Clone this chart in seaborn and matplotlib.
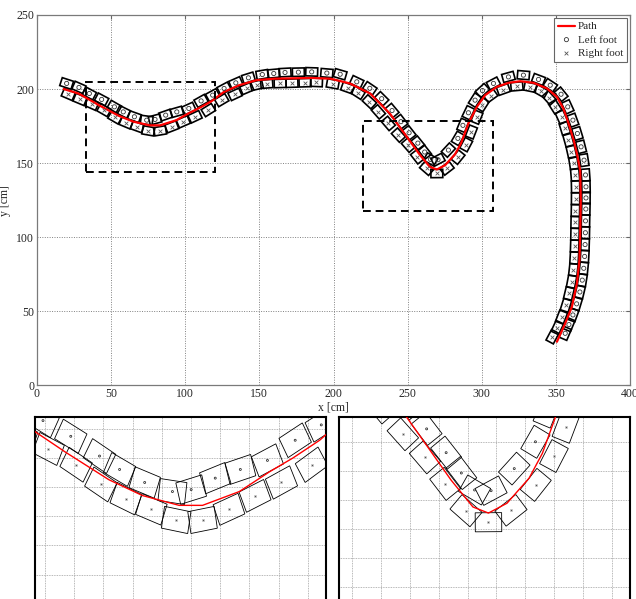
import numpy as np
import pandas as pd
import seaborn as sns
import matplotlib.pyplot as plt
from matplotlib.patches import Rectangle

# walking path (cm)
path_x = [18, 28, 42, 55, 65, 76, 83, 94, 103, 110, 118, 126, 136, 148, 160, 171, 185, 198, 211, 224.7,
          238, 249.5, 258.4, 265, 269.7, 275.3, 282, 286, 291, 296.7, 302.3, 310.2, 318, 326, 335,
          344, 350.7, 355, 358.5, 362, 364.5, 366.4, 366.8, 366.4, 365.9, 364.2, 360.8, 356.3, 350.7]
path_y = [200, 197, 189, 182, 178, 175.5, 175.5, 179, 184, 187.5, 192, 198, 202.5, 206, 207, 207.2, 207.5, 207, 203.8, 197,
          183.5, 167.7, 155.4, 147.5, 145.7, 148.6, 156, 163.3, 176.8, 188, 195.9, 201.5, 204.2, 205.3, 204.2,
          200.4, 194.7, 187, 177, 165.5, 155, 145, 125, 102.6, 84.5, 68.8, 53, 41.8, 29.4]

# footstep centres (cm)
left_x = [20.0, 28.3, 35.3, 43.6, 52.2, 58.2, 65.7, 74.0, 79.6, 86.8, 94.3, 102.4, 110.7, 118.5, 126.2, 134.1,
          142.6, 152.0, 159.7, 167.3, 176.3, 185.3, 195.5, 204.5, 215.7, 224.5, 232.5, 239.5, 245.5, 251.0,
          256.9, 261.5, 265.5, 270.5, 277.5, 283.9, 287.3, 291.0, 295.5, 300.5, 307.9, 318.0, 328.1, 338.3,
          346.2, 353.5, 358.0, 361.5, 364.5, 367.0, 369.0, 370.0, 370.3, 370.3, 370.2, 370.0, 369.9, 369.7,
          369.4, 368.8, 367.8, 366.2, 364.0, 361.5, 358.8, 356.3]
left_y = [203.8, 201.1, 197.0, 193.0, 188.0, 184.6, 181.3, 179.0, 179.5, 182.4, 184.6, 186.9, 192.0, 195.9, 200.4, 204.2,
          207.6, 209.8, 210.5, 211.2, 211.4, 211.6, 210.8, 210.0, 204.9, 200.5, 193.5, 185.5, 178.0, 170.5,
          163.5, 157.5, 152.5, 152.3, 158.8, 166.7, 175.5, 184.0, 192.5, 199.0, 203.8, 208.2, 209.4, 206.5,
          202.6, 196.5, 188.0, 179.0, 170.0, 161.0, 152.0, 142.0, 134.0, 126.5, 119.0, 111.0, 103.0, 95.0,
          87.0, 79.0, 71.0, 63.0, 55.0, 47.5, 41.0, 35.1]
right_x = [21.1, 29.0, 36.9, 45.2, 52.6, 60.1, 67.7, 75.1, 83.0, 90.9, 98.7, 106.6, 115.6, 124.6, 133.6, 141.5,
           148.2, 155.0, 164.0, 172.0, 180.8, 188.5, 199.5, 209.5, 216.5, 224.2, 230.3, 237.0, 243.8, 250.5,
           256.6, 262.9, 269.7, 276.5, 284.0, 289.5, 293.0, 296.7, 300.5, 306.0, 314.6, 323.7, 332.7, 340.0,
           345.5, 349.5, 353.8, 356.0, 358.5, 360.5, 362.0, 363.0, 363.3, 363.3, 363.2, 363.0, 362.9, 362.7,
           362.4, 361.8, 360.6, 358.8, 356.8, 353.8, 351.0, 347.7]
right_y = [196.4, 193.0, 189.8, 185.8, 180.8, 177.2, 174.5, 171.8, 171.8, 174.5, 177.9, 181.3, 185.8, 192.5, 196.4, 200.4,
           202.6, 203.5, 203.8, 204.0, 204.3, 204.5, 203.5, 200.8, 197.5, 191.4, 184.6, 176.8, 168.9, 162.1,
           154.3, 146.4, 143.0, 146.5, 154.0, 162.5, 171.0, 181.0, 189.5, 195.5, 199.7, 201.8, 201.3, 198.5,
           194.0, 188.0, 181.0, 173.5, 165.5, 157.5, 150.0, 142.0, 134.0, 126.0, 118.0, 110.0, 102.0, 94.0,
           86.0, 78.0, 70.0, 62.0, 54.0, 46.0, 39.0, 32.8]

# zoom windows (cm): x0, y0, width, height
zoom_boxes = [(33.0, 143.7, 87.0, 61.2), (220.2, 117.4, 87.5, 61.1)]

FOOT_L, FOOT_W = 8.0, 5.6

sns.set_style('white')
plt.rcParams['font.family'] = ['Liberation Serif', 'DejaVu Serif']

path_df = pd.DataFrame({'x': path_x, 'y': path_y})
left_df = pd.DataFrame({'x': left_x, 'y': left_y})
right_df = pd.DataFrame({'x': right_x, 'y': right_y})


def add_feet(ax, df, lw):
    hx = np.gradient(df.x.values)
    hy = np.gradient(df.y.values)
    ang = np.degrees(np.arctan2(hy, hx))
    for cx, cy, a in zip(df.x, df.y, ang):
        ax.add_patch(Rectangle((cx - FOOT_L / 2, cy - FOOT_W / 2), FOOT_L, FOOT_W, angle=a,
                               rotation_point='center', fill=False, edgecolor='black', lw=lw, zorder=2))


def draw_scene(ax, box_lw, path_lw, ms, legend):
    add_feet(ax, left_df, box_lw)
    add_feet(ax, right_df, box_lw)
    sns.lineplot(data=path_df, x='x', y='y', sort=False, estimator=None, color='red', lw=path_lw,
                 ax=ax, label='Path' if legend else None, zorder=3)
    sns.scatterplot(data=left_df, x='x', y='y', marker='o', s=ms, facecolor='none', edgecolor='#333333',
                    linewidth=0.6, ax=ax, label='Left foot' if legend else None, zorder=4)
    sns.scatterplot(data=right_df, x='x', y='y', marker='x', s=ms * 0.8, color='#555555',
                    linewidth=0.6, ax=ax, label='Right foot' if legend else None, zorder=4)


fig = plt.figure(figsize=(6.36, 5.99), dpi=100)

# main view
ax = fig.add_axes([37 / 636, 213.7 / 599, 593 / 636, 370.3 / 599])
draw_scene(ax, 1.2, 1.6, 9, True)
for x0, y0, w, h in zoom_boxes:
    ax.add_patch(Rectangle((x0, y0), w, h, fill=False, edgecolor='black', lw=1.4,
                           linestyle=(0, (4, 2.5)), zorder=5))
ax.set_xlim(0, 400)
ax.set_ylim(0, 250)
ax.set_xticks(range(0, 401, 50))
ax.set_yticks(range(0, 251, 50))
ax.grid(True, color='#808080', linestyle=(0, (1, 1.5)), lw=0.7)
ax.tick_params(direction='in', length=3, top=True, right=True, labelsize=8.5, color='#666666', pad=2)
for s in ax.spines.values():
    s.set_color('#7a7a7a')
    s.set_linewidth(0.9)
ax.set_xlabel('x [cm]', fontsize=8.5, labelpad=1)
ax.set_ylabel('y [cm]', fontsize=8.5, labelpad=4)
leg = ax.legend(loc='upper right', fontsize=8, frameon=True, fancybox=False, framealpha=1,
                edgecolor='#666666', handlelength=1.6, handletextpad=0.25, borderpad=0.35,
                labelspacing=0.3, borderaxespad=0.25)
leg.get_frame().set_linewidth(0.8)

# zoomed views
zoom_specs = [
    # axes left px, xlim, ylim
    (35.3, (33.0, 120.0), (151.0, 197.9)),
    (339.0, (224.5, 312.5), (119.5, 174.0)),
]
grid_px = [
    (np.arange(45.0, 326, 29.2), np.arange(429.0, 600, 29.1)),
    (np.arange(351.7, 630, 28.95), np.arange(442.0, 600, 29.0)),
]
for (left_px, xl, yl), (gx, gy) in zip(zoom_specs, grid_px):
    zax = fig.add_axes([left_px / 636, -3 / 599, 291 / 636, 185 / 599])
    draw_scene(zax, 0.6, 1.0, 2, False)
    zax.set_xlim(*xl)
    zax.set_ylim(*yl)
    sx = 291 / (xl[1] - xl[0])
    sy = 185 / (yl[1] - yl[0])
    zax.set_xticks(xl[0] + (gx - left_px) / sx)
    zax.set_yticks(yl[1] - (gy - 417) / sy)
    zax.set_xticklabels([])
    zax.set_yticklabels([])
    zax.tick_params(length=0)
    zax.set_xlabel('')
    zax.set_ylabel('')
    zax.grid(True, color='#a0a0a0', linestyle=(0, (1, 1)), lw=0.6)
    for s in zax.spines.values():
        s.set_color('black')
        s.set_linewidth(1.5)

fig.savefig('out.png', dpi=100)
